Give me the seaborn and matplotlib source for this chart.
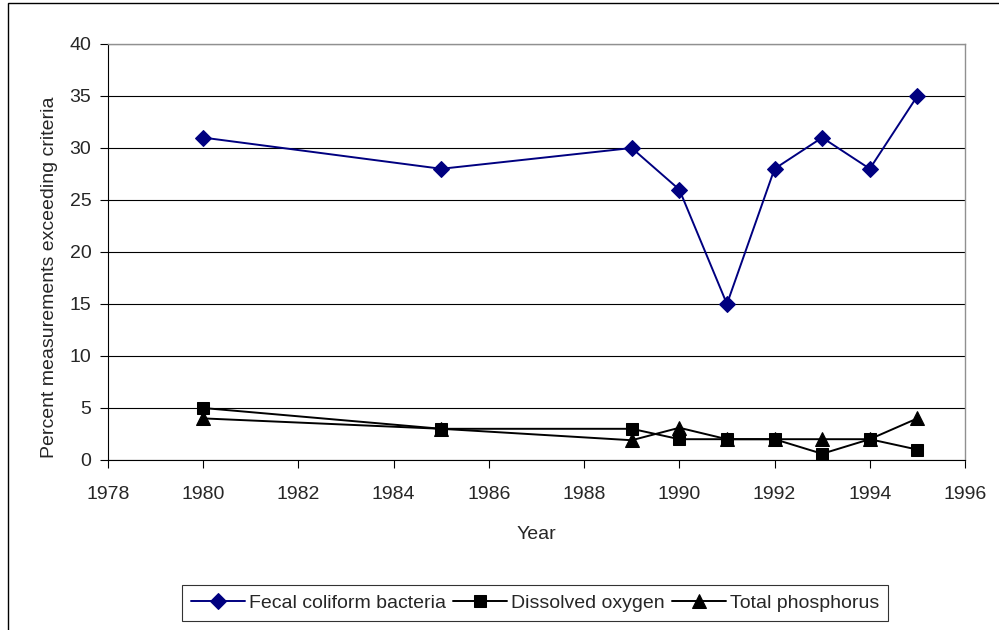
import matplotlib
matplotlib.use("Agg")
import matplotlib.pyplot as plt
import seaborn as sns
import pandas as pd
from matplotlib.patches import Rectangle

years = [1980, 1985, 1989, 1990, 1991, 1992, 1993, 1994, 1995]
fecal = [31, 28, 30, 26, 15, 28, 31, 28, 35]
oxygen = [5, 3, 3, 2, 2, 2, 0.6, 2, 1]
phosphorus = [4, 3, 1.9, 3.1, 2, 2, 2, 2, 4]
series_names = ["Fecal coliform bacteria", "Dissolved oxygen", "Total phosphorus"]
xticks = list(range(1978, 1997, 2))
yticks = list(range(0, 41, 5))

sns.set_theme(style="white")
plt.rcParams['font.family'] = ['Liberation Sans', 'DejaVu Sans']

df = pd.DataFrame({
    "Year": years * 3,
    "Value": fecal + oxygen + phosphorus,
    "Series": [series_names[0]] * len(years) + [series_names[1]] * len(years) + [series_names[2]] * len(years),
})

fig = plt.figure(figsize=(9.99, 6.3), dpi=100)
ax = fig.add_axes([108 / 999, 1 - 460 / 630, (965 - 108) / 999, (460 - 44) / 630])

palette = {series_names[0]: "#000080", series_names[1]: "black", series_names[2]: "black"}
markers = {series_names[0]: "D", series_names[1]: "s", series_names[2]: "^"}
sizes_map = {series_names[0]: 8, series_names[1]: 8.5, series_names[2]: 10}

for name in series_names:
    sub = df[df["Series"] == name]
    sns.lineplot(data=sub, x="Year", y="Value", ax=ax, color=palette[name],
                 marker=markers[name], markersize=sizes_map[name],
                 markeredgecolor=palette[name], linewidth=1.4, label=name, legend=False)

fs = 14
ax.set_xlim(1978, 1996)
ax.set_ylim(0, 40)
ax.set_xticks(xticks)
ax.set_yticks(yticks)
ax.set_xticklabels([str(t) for t in xticks], fontsize=fs)
ax.set_yticklabels([str(t) for t in yticks], fontsize=fs)
ax.yaxis.grid(True, color="black", linewidth=0.8)
ax.xaxis.grid(False)
ax.set_axisbelow(True)
ax.tick_params(axis="x", direction="out", length=6, width=0.8, color="black", bottom=True, pad=12.5)
ax.tick_params(axis="y", direction="out", length=6, width=0.8, color="black", left=True, pad=6)
ax.set_xlabel("Year", fontsize=fs, labelpad=17)
ax.set_ylabel("Percent measurements exceeding criteria", fontsize=fs)
ax.yaxis.set_label_coords(-0.058, 0.44)
for s in ["left", "bottom"]:
    ax.spines[s].set_color("black")
    ax.spines[s].set_linewidth(0.8)
for s in ["top", "right"]:
    ax.spines[s].set_color("#909090")
    ax.spines[s].set_linewidth(1.0)

handles, labels = ax.get_legend_handles_labels()
leg = fig.legend(handles, labels, loc="center", bbox_to_anchor=(535 / 999, 1 - 603 / 630),
                 ncol=3, fontsize=fs, frameon=True, fancybox=False, edgecolor="black",
                 handlelength=2.8, handletextpad=0.2, columnspacing=0.35, borderpad=0.45,
                 borderaxespad=0)
leg.get_frame().set_linewidth(0.8)

fig.patches.append(Rectangle((8 / 999, -0.1), 1.2, 1 - 3 / 630 + 0.1, transform=fig.transFigure,
                             fill=False, edgecolor="black", linewidth=1.0))

fig.savefig("out.png", dpi=100)
